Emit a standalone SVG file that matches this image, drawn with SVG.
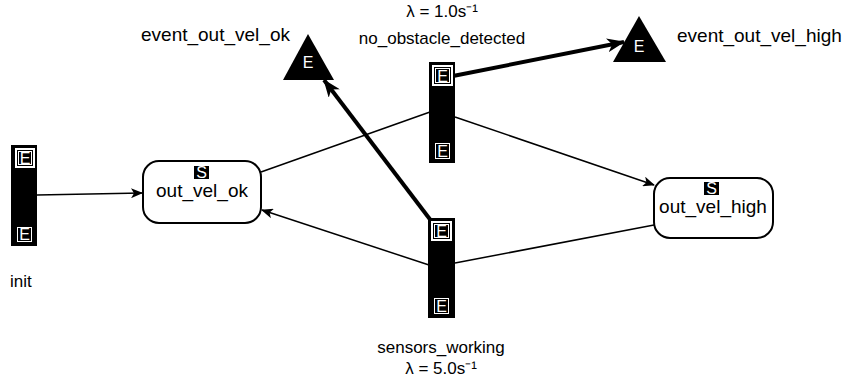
<svg xmlns="http://www.w3.org/2000/svg" width="843" height="383" viewBox="0 0 843 383">
<style>
text{font-family:"Liberation Sans",Arial,sans-serif;font-size:17px;fill:#000}
.big{font-size:19px}
.w{fill:#fff}
.c{text-anchor:middle}
.bar{fill:#000}
.ef{fill:#000;stroke:#fff;stroke-width:2}
.ei{fill:none;stroke:#fff;stroke-width:1}
.st{fill:#fff;stroke:#000;stroke-width:2}
.ln{stroke:#000;stroke-width:1.5;fill:none}
.tk{stroke:#000;stroke-width:4;fill:none}
.e{font-size:16px;fill:#fff;text-anchor:middle}
</style>
<defs>
<marker id="a" viewBox="0 0 12 10" refX="11" refY="5" markerWidth="12" markerHeight="10" markerUnits="userSpaceOnUse" orient="auto"><path d="M0,0 L12,5 L0,10 L3,5 z" fill="#000"/></marker>
<marker id="b" viewBox="0 0 18 14" refX="17" refY="7" markerWidth="18" markerHeight="14" markerUnits="userSpaceOnUse" orient="auto"><path d="M0,0 L18,7 L0,14 L5,7 z" fill="#000"/></marker>
</defs>
<g id="connectors">
<line class="ln" x1="37" y1="195" x2="142" y2="193" marker-end="url(#a)"/>
<line class="ln" x1="261" y1="172" x2="430" y2="112"/>
<line class="ln" x1="455" y1="117" x2="654" y2="185" marker-end="url(#a)"/>
<line class="tk" x1="453" y1="76" x2="624" y2="42" marker-end="url(#b)"/>
<line class="ln" x1="429" y1="265" x2="262" y2="210" marker-end="url(#a)"/>
<line class="ln" x1="654" y1="225" x2="455" y2="263"/>
<line class="tk" x1="432" y1="222" x2="324" y2="80" marker-end="url(#b)"/>
</g>
<g id="init">
<rect class="bar" x="11" y="145" width="26" height="101"/>
<rect class="ef" x="16" y="149" width="18" height="18"/>
<rect class="ei" x="18.5" y="151.5" width="13" height="13"/>
<text class="e" x="25" y="164" font-size="15">E</text>
<rect class="ei" x="17.5" y="227.5" width="14" height="14"/>
<text class="e" x="24.5" y="240" font-size="15">E</text>
<text x="10" y="287" font-size="18">init</text>
</g>
<g id="out_vel_ok">
<rect class="st" x="143" y="161" width="118" height="62" rx="16"/>
<rect x="194" y="166" width="15" height="13" fill="#000"/>
<text class="e" x="201.5" y="178" font-size="15">S</text>
<text class="c big" x="202" y="197">out_vel_ok</text>
</g>
<g id="out_vel_high">
<rect class="st" x="654" y="178" width="119" height="60" rx="16"/>
<rect x="704" y="182" width="15" height="13" fill="#000"/>
<text class="e" x="711.5" y="194" font-size="15">S</text>
<text class="c big" x="713" y="213">out_vel_high</text>
</g>
<g id="no_obstacle_detected">
<rect class="bar" x="429" y="62" width="26" height="101"/>
<rect class="ef" x="433" y="66" width="19" height="19"/>
<rect class="ei" x="435.5" y="68.5" width="14" height="14"/>
<text class="e" x="442.5" y="81.5">E</text>
<rect class="ei" x="435.5" y="143.5" width="14" height="15"/>
<text class="e" x="442.5" y="157">E</text>
<text class="c" x="442" y="17">λ = 1.0s⁻¹</text>
<text class="c" x="442" y="44">no_obstacle_detected</text>
</g>
<g id="sensors_working">
<rect class="bar" x="428" y="218" width="27" height="100"/>
<rect class="ef" x="432" y="222" width="19" height="18"/>
<rect class="ei" x="434.5" y="224.5" width="14" height="13"/>
<text class="e" x="441.5" y="237">E</text>
<rect class="ei" x="434.5" y="298.5" width="14" height="15"/>
<text class="e" x="441.5" y="312">E</text>
<text class="c" x="441" y="353">sensors_working</text>
<text class="c" x="441" y="374">λ = 5.0s⁻¹</text>
</g>
<g id="event_out_vel_ok">
<polygon points="308,34 283,80 334,80" fill="#000"/>
<text class="e" x="308" y="68" font-size="17">E</text>
<text class="big" x="141" y="41">event_out_vel_ok</text>
</g>
<g id="event_out_vel_high">
<polygon points="639,16 613,62 666,62" fill="#000"/>
<text class="e" x="639" y="52" font-size="17">E</text>
<text class="big" x="677" y="42">event_out_vel_high</text>
</g>
</svg>
